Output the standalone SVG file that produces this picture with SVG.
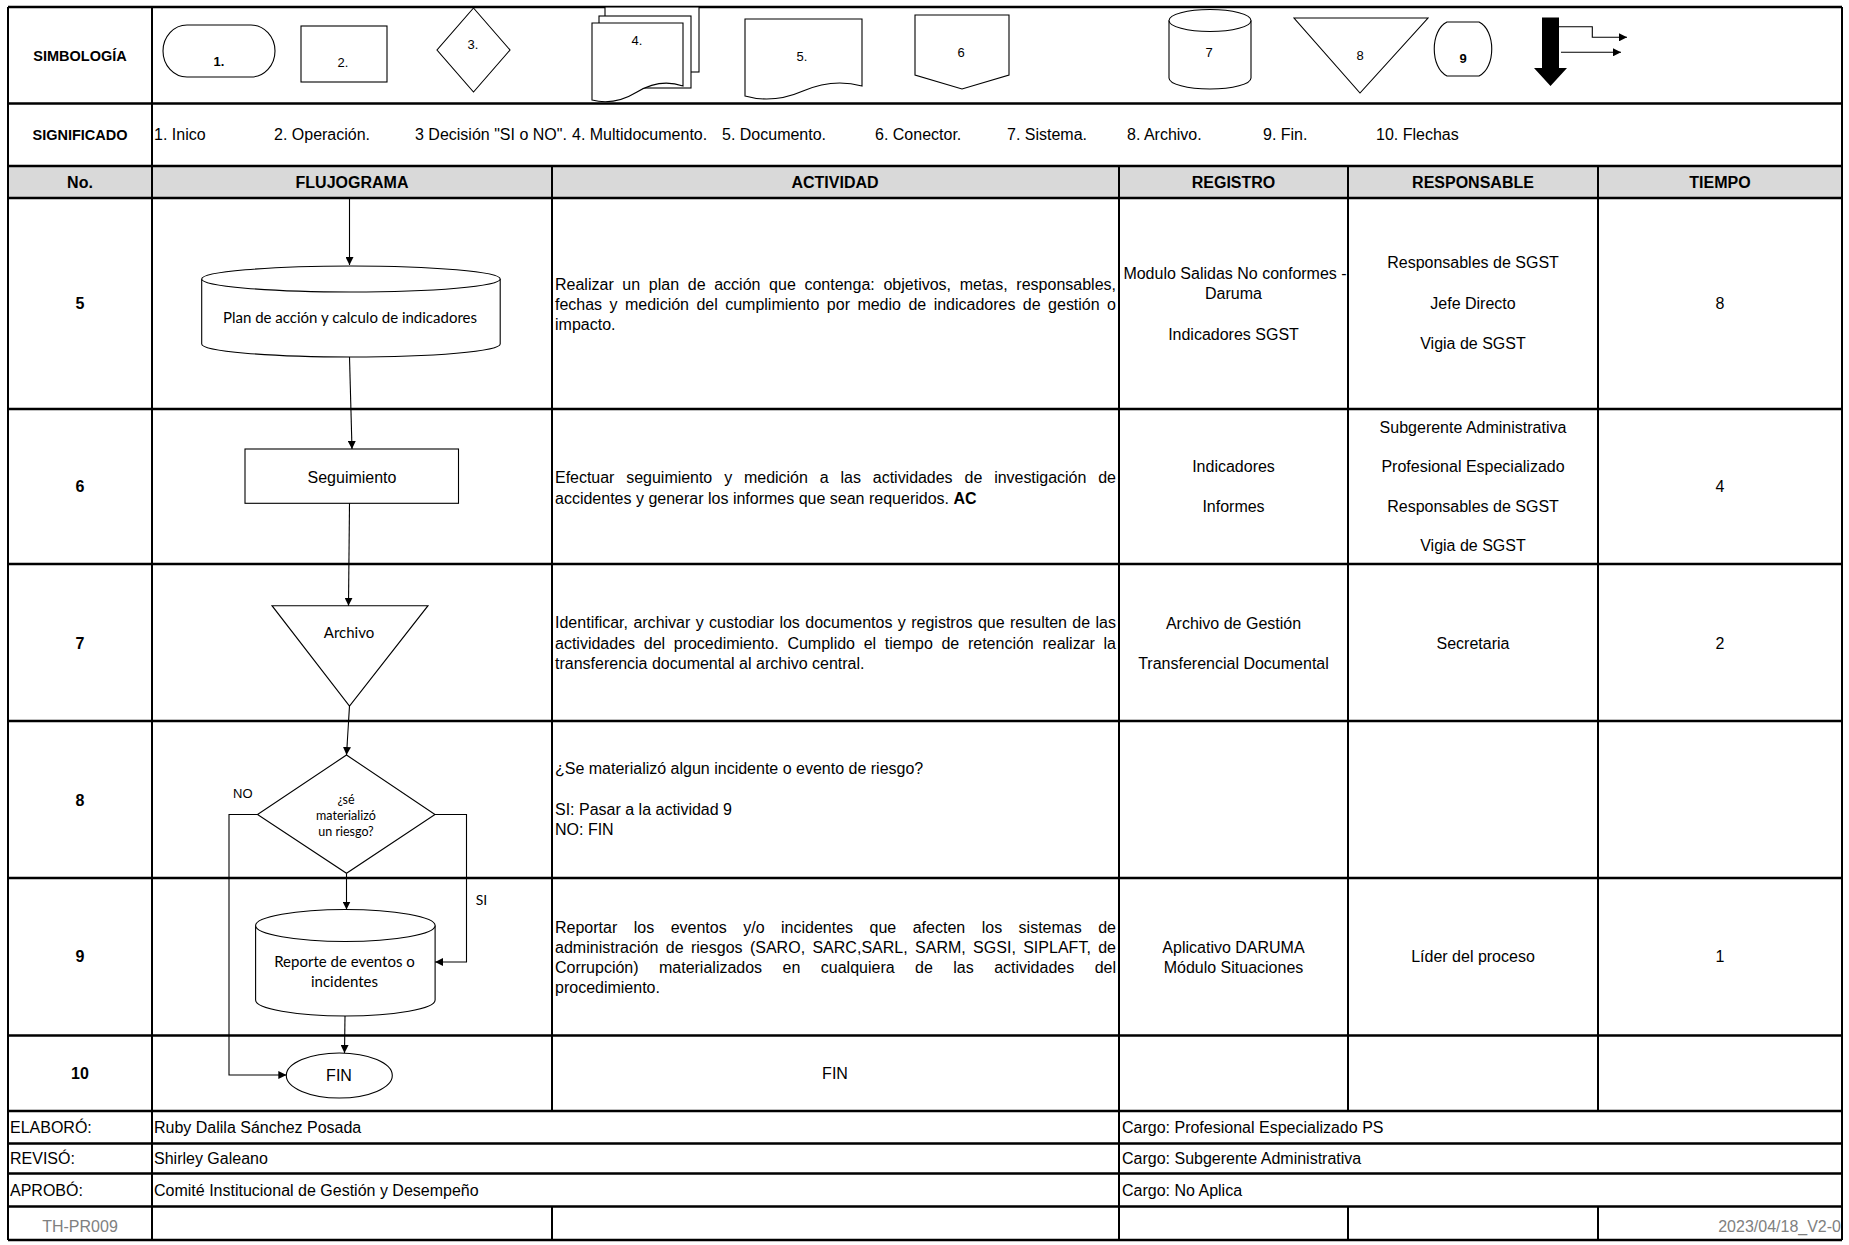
<svg xmlns="http://www.w3.org/2000/svg" width="1849" height="1245" viewBox="0 0 1849 1245">
<style>
  .t{font-family:"Liberation Sans",Arial,sans-serif;font-size:16px;fill:#000}
  .b{font-weight:bold}
  .c{text-anchor:middle}
  .lbl{font-family:"Liberation Sans",Arial,sans-serif;font-size:14.5px;font-weight:bold;text-anchor:middle}
  .sym{font-family:"Liberation Sans",Arial,sans-serif;font-size:13px;text-anchor:middle}
  .cal{font-family:Lato,"Noto Sans",sans-serif;font-size:15px;text-anchor:middle}
  .gray{fill:#808080}
  .hl{stroke:#000;stroke-width:2.6;fill:none}
  .vl{stroke:#000;stroke-width:2;fill:none}
  .shape{fill:#fff;stroke:#000;stroke-width:1.1}
  .conn{fill:none;stroke:#000;stroke-width:1.1}
</style>
<defs>
  <marker id="ah" viewBox="0 0 8 8" refX="8" refY="4" markerWidth="8" markerHeight="8" markerUnits="userSpaceOnUse" orient="auto">
    <path d="M0,0 L8,4 L0,8 z" fill="#000"/>
  </marker>
</defs>
<rect x="0" y="0" width="1849" height="1245" fill="#fff"/>

<!-- header fill -->
<rect x="8" y="166" width="1834" height="32" fill="#d9d9d9"/>

<!-- grid -->
<g id="grid">
  <path class="hl" d="M8,7H1842M8,103.5H1842M8,166H1842M8,198H1842M8,409H1842M8,564H1842M8,721H1842M8,878H1842M8,1035.5H1842M8,1111H1842M8,1143.5H1842M8,1173.5H1842M8,1206.5H1842M8,1240H1842"/>
  <path class="vl" d="M8,7V1240M1842,7V1240M152,7V1240M552,166V1111M552,1206.5V1240M1119,166V1240M1348,166V1111M1348,1206.5V1240M1598,166V1111M1598,1206.5V1240"/>
</g>

<!-- symbology -->
<g id="symbols">
  <text class="lbl" x="80" y="60.5">SIMBOLOGÍA</text>
  <rect class="shape" x="163" y="25" width="112" height="52" rx="24" ry="26"/>
  <text class="sym b" x="219" y="66">1.</text>
  <rect class="shape" x="301" y="26" width="86" height="56"/>
  <text class="sym" x="343" y="67">2.</text>
  <polygon class="shape" points="473.5,8 510,50 473.5,92 437,50"/>
  <text class="sym" x="473" y="49">3.</text>
  <rect class="shape" x="605" y="7" width="94" height="65"/>
  <rect class="shape" x="599" y="16" width="92" height="72"/>
  <path class="shape" d="M592,23 H683 V86 Q660,78 637,92 Q614,106 592,100 Z"/>
  <text class="sym" x="637" y="45">4.</text>
  <path class="shape" d="M745,19 H862 V86 Q833,78 803,91 Q773,104 745,96 Z"/>
  <text class="sym" x="802" y="61">5.</text>
  <path class="shape" d="M915,15 H1009 V75 L962,89 L915,75 Z"/>
  <text class="sym" x="961" y="57">6</text>
  <path class="shape" d="M1169,20.5 V78 A41,11 0 0 0 1251,78 V20.5"/>
  <ellipse class="shape" cx="1210" cy="20.5" rx="41" ry="11"/>
  <text class="sym" x="1209" y="57">7</text>
  <polygon class="shape" points="1294,18 1428,18 1360,93"/>
  <text class="sym" x="1360" y="60">8</text>
  <path class="shape" d="M1447,22 H1479 C1496,30 1496,68 1479,76 H1447 C1430,68 1430,30 1447,22 Z"/>
  <text class="sym b" x="1463" y="63">9</text>
  <polygon points="1542,17.5 1559,17.5 1559,68 1567,68 1550.5,86 1534,68 1542,68" fill="#000"/>
  <path class="conn" d="M1559,26.7 H1592.3 V37.3 H1627" marker-end="url(#ah)"/>
  <path class="conn" d="M1561,52.3 H1621" marker-end="url(#ah)"/>
</g>

<!-- significado -->
<g id="significado">
  <text class="lbl" x="80" y="139.5">SIGNIFICADO</text>
  <text class="t" x="154" y="140">1. Inico</text>
  <text class="t" x="274" y="140">2. Operación.</text>
  <text class="t" x="415" y="140">3 Decisión "SI o NO".</text>
  <text class="t" x="572" y="140">4. Multidocumento.</text>
  <text class="t" x="722" y="140">5. Documento.</text>
  <text class="t" x="875" y="140">6. Conector.</text>
  <text class="t" x="1007" y="140">7. Sistema.</text>
  <text class="t" x="1127" y="140">8. Archivo.</text>
  <text class="t" x="1263" y="140">9. Fin.</text>
  <text class="t" x="1376" y="140">10. Flechas</text>
</g>

<!-- header -->
<g id="header">
  <text class="t b c" x="80" y="187.5">No.</text>
  <text class="t b c" x="352" y="187.5">FLUJOGRAMA</text>
  <text class="t b c" x="835" y="187.5">ACTIVIDAD</text>
  <text class="t b c" x="1233.5" y="187.5">REGISTRO</text>
  <text class="t b c" x="1473" y="187.5">RESPONSABLE</text>
  <text class="t b c" x="1720" y="187.5">TIEMPO</text>
</g>

<!-- rows -->
<g id="row5">
  <text class="t b c" x="80" y="309">5</text>
  <text class="t" x="555" y="290" style="word-spacing:4.2px" textLength="561" lengthAdjust="spacing">Realizar un plan de acción que contenga: objetivos, metas, responsables,</text>
  <text class="t" x="555" y="310" style="word-spacing:3px" textLength="561" lengthAdjust="spacing">fechas y medición del cumplimiento por medio de indicadores de gestión o</text>
  <text class="t" x="555" y="330">impacto.</text>
  <text class="t c" x="1235" y="279">Modulo Salidas No conformes -</text>
  <text class="t c" x="1233.5" y="299">Daruma</text>
  <text class="t c" x="1233.5" y="340">Indicadores SGST</text>
  <text class="t c" x="1473" y="268">Responsables de SGST</text>
  <text class="t c" x="1473" y="309">Jefe Directo</text>
  <text class="t c" x="1473" y="349">Vigia de SGST</text>
  <text class="t c" x="1720" y="309">8</text>
</g>
<g id="row6">
  <text class="t b c" x="80" y="492">6</text>
  <text class="t" x="555" y="482.5" style="word-spacing:7.5px" textLength="561" lengthAdjust="spacing">Efectuar seguimiento y medición a las actividades de investigación de</text>
  <text class="t" x="555" y="503.5">accidentes y generar los informes que sean requeridos. <tspan class="b">AC</tspan></text>
  <text class="t c" x="1233.5" y="472">Indicadores</text>
  <text class="t c" x="1233.5" y="512">Informes</text>
  <text class="t c" x="1473" y="432.7">Subgerente Administrativa</text>
  <text class="t c" x="1473" y="471.7">Profesional Especializado</text>
  <text class="t c" x="1473" y="511.7">Responsables de SGST</text>
  <text class="t c" x="1473" y="550.7">Vigia de SGST</text>
  <text class="t c" x="1720" y="492">4</text>
</g>
<g id="row7">
  <text class="t b c" x="80" y="649">7</text>
  <text class="t" x="555" y="628" style="word-spacing:0.9px" textLength="561" lengthAdjust="spacing">Identificar, archivar y custodiar los documentos y registros que resulten de las</text>
  <text class="t" x="555" y="648.5" style="word-spacing:4.2px" textLength="561" lengthAdjust="spacing">actividades del procedimiento. Cumplido el tiempo de retención realizar la</text>
  <text class="t" x="555" y="669">transferencia documental al archivo central.</text>
  <text class="t c" x="1233.5" y="628.5">Archivo de Gestión</text>
  <text class="t c" x="1233.5" y="668.7">Transferencial Documental</text>
  <text class="t c" x="1473" y="648.7">Secretaria</text>
  <text class="t c" x="1720" y="648.7">2</text>
</g>
<g id="row8">
  <text class="t b c" x="80" y="805.5">8</text>
  <text class="t" x="555" y="774">¿Se materializó algun incidente o evento de riesgo?</text>
  <text class="t" x="555" y="815">SI: Pasar a la actividad 9</text>
  <text class="t" x="555" y="835">NO: FIN</text>
</g>
<g id="row9">
  <text class="t b c" x="80" y="962">9</text>
  <text class="t" x="555" y="933" style="word-spacing:12px" textLength="561" lengthAdjust="spacing">Reportar los eventos y/o incidentes que afecten los sistemas de</text>
  <text class="t" x="555" y="953" style="word-spacing:2.8px" textLength="561" lengthAdjust="spacing">administración de riesgos (SARO, SARC,SARL, SARM, SGSI, SIPLAFT, de</text>
  <text class="t" x="555" y="973" style="word-spacing:16px" textLength="561" lengthAdjust="spacing">Corrupción) materializados en cualquiera de las actividades del</text>
  <text class="t" x="555" y="993">procedimiento.</text>
  <text class="t c" x="1233.5" y="953">Aplicativo DARUMA</text>
  <text class="t c" x="1233.5" y="973">Módulo Situaciones</text>
  <text class="t c" x="1473" y="962">Líder del proceso</text>
  <text class="t c" x="1720" y="962">1</text>
</g>
<g id="row10">
  <text class="t b c" x="80" y="1079">10</text>
  <text class="t c" x="835" y="1079">FIN</text>
</g>

<!-- footer -->
<g id="footer">
  <text class="t" x="10" y="1133">ELABORÓ:</text>
  <text class="t" x="154" y="1133">Ruby Dalila Sánchez Posada</text>
  <text class="t" x="1122" y="1133">Cargo: Profesional Especializado PS</text>
  <text class="t" x="10" y="1164">REVISÓ:</text>
  <text class="t" x="154" y="1164">Shirley Galeano</text>
  <text class="t" x="1122" y="1164">Cargo: Subgerente Administrativa</text>
  <text class="t" x="10" y="1196">APROBÓ:</text>
  <text class="t" x="154" y="1196">Comité Institucional de Gestión y Desempeño</text>
  <text class="t" x="1122" y="1196">Cargo: No Aplica</text>
  <text class="t c gray" x="80" y="1232">TH-PR009</text>
  <text class="t gray" x="1841" y="1232" text-anchor="end">2023/04/18_V2-0</text>
</g>

<!-- flowchart nodes -->
<g id="node-plan">
  <path class="shape" d="M201.7,279 V344 A149.25,13 0 0 0 500.2,344 V279"/>
  <ellipse class="shape" cx="350.95" cy="279" rx="149.25" ry="13"/>
  <text class="cal" x="350" y="323">Plan de  acción y calculo de indicadores</text>
</g>
<g id="node-seguimiento">
  <rect class="shape" x="245" y="449" width="213.5" height="54.3"/>
  <text class="t c" x="352" y="482.5">Seguimiento</text>
</g>
<g id="node-archivo">
  <polygon class="shape" points="272,605.7 428,605.7 349.5,706"/>
  <text class="cal" x="349" y="637.5">Archivo</text>
</g>
<g id="node-decision">
  <polygon class="shape" points="346.5,755 435,814.5 346.5,873.3 257.5,814.5"/>
  <text class="cal" x="346" y="803.5" style="font-size:12.5px">¿sé</text>
  <text class="cal" x="346" y="820" style="font-size:12.5px">materializó</text>
  <text class="cal" x="346" y="836" style="font-size:12.5px">un riesgo?</text>
</g>
<g id="node-reporte">
  <path class="shape" d="M255.6,925.5 V1000 A89.75,16 0 0 0 435.1,1000 V925.5"/>
  <ellipse class="shape" cx="345.35" cy="925.5" rx="89.75" ry="16"/>
  <text class="cal" x="344.5" y="967">Reporte de eventos o</text>
  <text class="cal" x="344.5" y="986.5">incidentes</text>
</g>
<g id="node-fin">
  <ellipse class="shape" cx="339.3" cy="1075.5" rx="53" ry="22.5"/>
  <text class="t c" x="339" y="1081">FIN</text>
</g>

<!-- connectors -->
<g id="connectors">
  <path class="conn" d="M349.5,199 V265" marker-end="url(#ah)"/>
  <path class="conn" d="M349.5,357 L352,449" marker-end="url(#ah)"/>
  <path class="conn" d="M349.5,503.3 L348.5,605.7" marker-end="url(#ah)"/>
  <path class="conn" d="M349.5,706 L346.5,755" marker-end="url(#ah)"/>
  <path class="conn" d="M257.5,814.5 H229 V1075 H286.3" marker-end="url(#ah)"/>
  <path class="conn" d="M435,814.5 H466.5 V962 H435.1" marker-end="url(#ah)"/>
  <path class="conn" d="M346.5,873.3 V909.5" marker-end="url(#ah)"/>
  <path class="conn" d="M345,1016 L344.5,1053" marker-end="url(#ah)"/>
  <text class="t" x="233" y="797.5" style="font-size:13px">NO</text>
  <text class="cal" x="481.5" y="905" style="font-size:14px">SI</text>
</g>
</svg>
